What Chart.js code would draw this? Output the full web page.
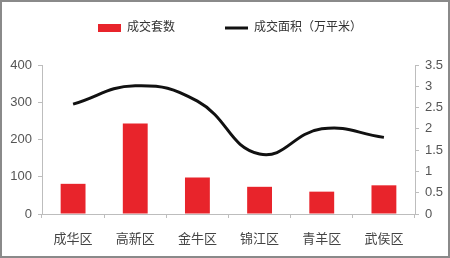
<!DOCTYPE html>
<html>
<head>
<meta charset="utf-8">
<script src="https://cdn.jsdelivr.net/npm/chart.js@4/dist/chart.umd.min.js"></script>
<style>
  html, body { margin: 0; padding: 0; background: #fff; }
  #wrap { width: 450px; height: 258px; position: relative; }
  canvas { outline: 2px solid #8a8a8a; outline-offset: -2px; }
</style>
</head>
<body>
<div id="wrap"><canvas id="grafica" width="450" height="258"></canvas></div>
<script>
// datos
const distritos = ['成华区', '高新区', '金牛区', '锦江区', '青羊区', '武侯区'];
const taoShu = [81, 243, 98, 73, 60, 77];
const mianJi = [2.58, 3.01, 2.65, 1.41, 2.0, 1.8];
const ticksIzq = [0, 100, 200, 300, 400];
const ticksDer = [0, 0.5, 1, 1.5, 2, 2.5, 3, 3.5];

const fuente = "'Liberation Sans', 'Noto Sans CJK SC', sans-serif";
const gris = '#bdbdbd';

const ctx = document.getElementById('grafica').getContext('2d');

const grafica = new Chart(ctx, {
    type: 'bar',
    data: {
        labels: distritos,
        datasets: [{
            type: 'line',
            label: '成交面积（万平米）',
            data: mianJi,
            yAxisID: 'y1',
            borderColor: '#111',
            backgroundColor: '#111',
            borderWidth: 3,
            pointRadius: 0,
            tension: 0.45,
            fill: false,
            order: 0,
            pointStyle: 'line'
        }, {
            label: '成交套数',
            data: taoShu,
            yAxisID: 'y',
            backgroundColor: '#e8242b',
            borderWidth: 0,
            barPercentage: 0.4,
            categoryPercentage: 1,
            order: 1,
            pointStyle: 'rect'
        }]
    },
    options: {
        responsive: false,
        animation: false,
        layout: {
            padding: { left: 10, right: 0, top: -28, bottom: 0 }
        },
        plugins: {
            legend: {
                position: 'top',
                reverse: true,
                labels: {
                    usePointStyle: true,
                    pointStyleWidth: 23,
                    boxHeight: 8,
                    padding: 50,
                    color: '#333',
                    font: { family: fuente, size: 12 }
                }
            },
            // solo deja espacio entre la leyenda y la grafica
            title: {
                display: true,
                text: '',
                weight: 500,
                padding: 0,
                font: { size: 21, lineHeight: 1 }
            },
            tooltip: { enabled: false }
        },
        scales: {
            x: {
                grid: { display: true, drawOnChartArea: false, tickLength: 4, color: gris },
                border: { color: gris },
                ticks: { color: '#444', padding: 14, font: { family: fuente, size: 13 } },
                afterFit: (s) => { s.height = 44; }
            },
            y: {
                position: 'left',
                min: 0,
                max: 400,
                afterBuildTicks: (s) => { s.ticks = ticksIzq.map(v => ({ value: v })); },
                grid: { drawOnChartArea: false, tickLength: 4, color: gris },
                border: { color: gris },
                ticks: { color: '#555', padding: 6, font: { family: fuente, size: 13 } },
                afterFit: (s) => { s.width = 32; }
            },
            y1: {
                position: 'right',
                min: 0,
                max: 3.5,
                afterBuildTicks: (s) => { s.ticks = ticksDer.map(v => ({ value: v })); },
                grid: { drawOnChartArea: false, tickLength: 4, color: gris },
                border: { color: gris },
                ticks: {
                    color: '#555',
                    padding: 6,
                    font: { family: fuente, size: 13 },
                    callback: (v) => String(v)
                },
                afterFit: (s) => { s.width = 35; }
            }
        }
    }
});
</script>
</body>
</html>
